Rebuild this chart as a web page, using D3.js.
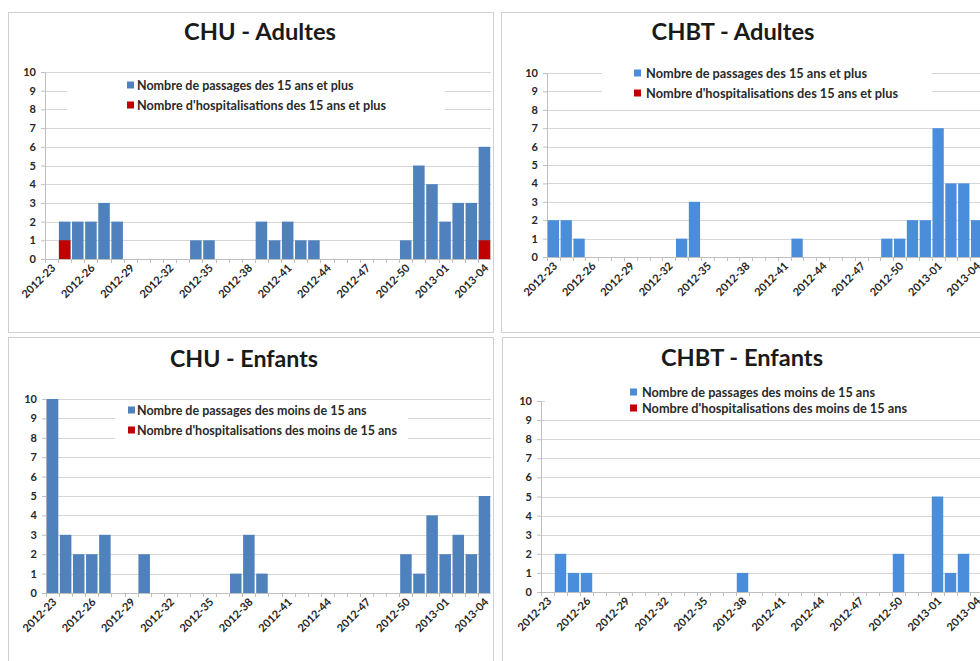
<!DOCTYPE html>
<html><head><meta charset="utf-8">
<script src="https://cdn.jsdelivr.net/npm/d3@7"></script>
<style>
html,body{margin:0;padding:0;background:#fff;}
svg{display:block;font-family:Lato,"Open Sans",sans-serif;}
</style></head>
<body>
<svg id="chart" width="980" height="661"></svg>
<script>
const weeks = ["2012-23","2012-24","2012-25","2012-26","2012-27","2012-28","2012-29","2012-30","2012-31","2012-32",
  "2012-33","2012-34","2012-35","2012-36","2012-37","2012-38","2012-39","2012-40","2012-41","2012-42",
  "2012-43","2012-44","2012-45","2012-46","2012-47","2012-48","2012-49","2012-50","2012-51","2012-52",
  "2013-01","2013-02","2013-03","2013-04"];
const tickLabels = ["2012-23","2012-26","2012-29","2012-32","2012-35","2012-38","2012-41","2012-44","2012-47","2012-50","2013-01","2013-04"];
const yTickValues = [0,1,2,3,4,5,6,7,8,9,10];

const chuAdultesPassages = [0,2,2,2,3,2,0,0,0,0,0,1,1,0,0,0,2,1,2,1,1,0,0,0,0,0,0,1,5,4,2,3,3,6];
const chuAdultesHosp     = [0,1,0,0,0,0,0,0,0,0,0,0,0,0,0,0,0,0,0,0,0,0,0,0,0,0,0,0,0,0,0,0,0,1];
const chbtAdultesPassages= [2,2,1,0,0,0,0,0,0,0,1,3,0,0,0,0,0,0,0,1,0,0,0,0,0,0,1,1,2,2,7,4,4,2];
const chbtAdultesHosp    = [0,0,0,0,0,0,0,0,0,0,0,0,0,0,0,0,0,0,0,0,0,0,0,0,0,0,0,0,0,0,0,0,0,0];
const chuEnfantsPassages = [10,3,2,2,3,0,0,2,0,0,0,0,0,0,1,3,1,0,0,0,0,0,0,0,0,0,0,2,1,4,2,3,2,5];
const chuEnfantsHosp     = [0,0,0,0,0,0,0,0,0,0,0,0,0,0,0,0,0,0,0,0,0,0,0,0,0,0,0,0,0,0,0,0,0,0];
const chbtEnfantsPassages= [0,2,1,1,0,0,0,0,0,0,0,0,0,0,0,1,0,0,0,0,0,0,0,0,0,0,0,2,0,0,5,1,2,0];
const chbtEnfantsHosp    = [0,0,0,0,0,0,0,0,0,0,0,0,0,0,0,0,0,0,0,0,0,0,0,0,0,0,0,0,0,0,0,0,0,0];

const titles = ["CHU - Adultes","CHBT - Adultes","CHU - Enfants","CHBT - Enfants"];
const legendAdultes = ["Nombre de passages des 15 ans et plus","Nombre d'hospitalisations des 15 ans et plus"];
const legendEnfants = ["Nombre de passages des moins de 15 ans","Nombre d'hospitalisations des moins de 15 ans"];

const svg = d3.select("#chart");
const RED = "#c00000";

const panels = [
  {title:titles[0], pass:chuAdultesPassages, hosp:chuAdultesHosp, legend:legendAdultes, blue:"#4f81bd",
   frame:[8,12,485,320], x0:45, x1:491, yTop:72, yBase:259,
   tx:260, ty:40, tw:152,
   lg:{sx:127, tx:137, y1:85, y2:105, w1:217, w2:249, box:[67,76,378,40]}},
  {title:titles[1], pass:chbtAdultesPassages, hosp:chbtAdultesHosp, legend:legendAdultes, blue:"#4a8ddb",
   frame:[501,12,490,320], x0:547, x1:983, yTop:73, yBase:257,
   tx:733, ty:40, tw:163,
   lg:{sx:634, tx:646, y1:73, y2:93, w1:221, w2:252, box:[602,64,330,38]}},
  {title:titles[2], pass:chuEnfantsPassages, hosp:chuEnfantsHosp, legend:legendEnfants, blue:"#4f81bd",
   frame:[8,337,485,340], x0:46, x1:491, yTop:399, yBase:593,
   tx:244, ty:367, tw:148,
   lg:{sx:128, tx:137, y1:410, y2:430, w1:229, w2:260, box:[115,402,293,45]}},
  {title:titles[3], pass:chbtEnfantsPassages, hosp:chbtEnfantsHosp, legend:legendEnfants, blue:"#4a8ddb",
   frame:[502,337,490,340], x0:541, x1:983, yTop:401, yBase:592,
   tx:742, ty:366, tw:162,
   lg:{sx:630, tx:642, y1:392, y2:408, w1:233, w2:265, box:[545,382,440,34]}}
];

function fitText(sel, w){
  sel.each(function(){
    const l = this.getComputedTextLength();
    if (Math.abs(l - w) > 1) { d3.select(this).attr("textLength", w).attr("lengthAdjust","spacingAndGlyphs"); }
  });
}

panels.forEach(p => {
  const g = svg.append("g");
  g.append("rect").attr("x",p.frame[0]+0.5).attr("y",p.frame[1]+0.5)
    .attr("width",p.frame[2]).attr("height",p.frame[3])
    .attr("fill","#fff").attr("stroke","#d0d0d0").attr("stroke-width",1);

  const x = d3.scaleBand().domain(weeks).range([p.x0,p.x1]).paddingInner(0.12).paddingOuter(0.06);
  const y = d3.scaleLinear().domain([0,10]).range([p.yBase,p.yTop]);
  const step = x.step();

  // gridlines
  g.append("g").selectAll("line").data(yTickValues.filter(v=>v>0)).join("line")
    .attr("x1",p.x0).attr("x2",p.x1)
    .attr("y1",d=>Math.round(y(d))+0.5).attr("y2",d=>Math.round(y(d))+0.5)
    .attr("stroke","#d6d6d6").attr("stroke-width",1);

  // y axis
  const yAxis = d3.axisLeft(y).tickValues(yTickValues).tickSize(4).tickPadding(5).tickFormat(d3.format("d"));
  const ya = g.append("g").attr("transform",`translate(${p.x0},0)`).call(yAxis);
  ya.select(".domain").attr("stroke","#bfbfbf");
  ya.selectAll(".tick line").attr("stroke","#bfbfbf");
  ya.selectAll(".tick text").attr("font-family","Lato, sans-serif").attr("font-weight","bold")
    .attr("font-size",11).attr("fill","#262626");

  // legend box (covers gridlines)
  g.append("rect").attr("x",p.lg.box[0]).attr("y",p.lg.box[1]).attr("width",p.lg.box[2]).attr("height",p.lg.box[3])
    .attr("fill","#fff");

  // x axis line & ticks at category boundaries
  g.append("line").attr("x1",p.x0).attr("x2",p.x1).attr("y1",p.yBase+0.5).attr("y2",p.yBase+0.5)
    .attr("stroke","#bfbfbf");
  g.append("g").selectAll("line").data(weeks).join("line")
    .attr("x1",d=>Math.round(x(d)-step*0.06)+0.5).attr("x2",d=>Math.round(x(d)-step*0.06)+0.5)
    .attr("y1",p.yBase).attr("y2",p.yBase+4).attr("stroke","#bfbfbf");

  // bars
  g.append("g").selectAll("rect").data(weeks).join("rect")
    .attr("x",d=>x(d)).attr("width",x.bandwidth())
    .attr("y",(d,i)=>y(p.pass[i])).attr("height",(d,i)=>y(0)-y(p.pass[i]))
    .attr("fill",p.blue);
  g.append("g").selectAll("rect").data(weeks).join("rect")
    .attr("x",d=>x(d)).attr("width",x.bandwidth())
    .attr("y",(d,i)=>y(p.hosp[i])).attr("height",(d,i)=>y(0)-y(p.hosp[i]))
    .attr("fill",RED);

  // x labels
  g.append("g").selectAll("text").data(tickLabels).join("text")
    .attr("transform",d=>`translate(${x(d)+x.bandwidth()/2+2},${p.yBase+7}) rotate(-45)`)
    .attr("text-anchor","end").attr("dy","0.35em")
    .attr("font-family","Lato, sans-serif").attr("font-weight","bold").attr("font-size",11)
    .attr("fill","#262626").text(d=>d);

  // title
  g.append("text").attr("x",p.tx).attr("y",p.ty).attr("text-anchor","middle")
    .attr("font-family","Lato, sans-serif").attr("font-weight","bold").attr("font-size",23)
    .attr("fill","#1a1a1a").text(p.title).call(fitText,p.tw);

  // legend
  const rows = [{c:p.blue, t:p.legend[0], y:p.lg.y1, w:p.lg.w1},{c:RED, t:p.legend[1], y:p.lg.y2, w:p.lg.w2}];
  rows.forEach(r=>{
    g.append("rect").attr("x",p.lg.sx).attr("y",r.y-3.5).attr("width",7).attr("height",7).attr("fill",r.c);
    g.append("text").attr("x",p.lg.tx).attr("y",r.y).attr("dy","0.36em")
      .attr("font-family","Lato, sans-serif").attr("font-weight","bold").attr("font-size",12.5)
      .attr("fill","#2a2a2a").text(r.t).call(fitText,r.w);
  });
});
</script>
</body></html>
